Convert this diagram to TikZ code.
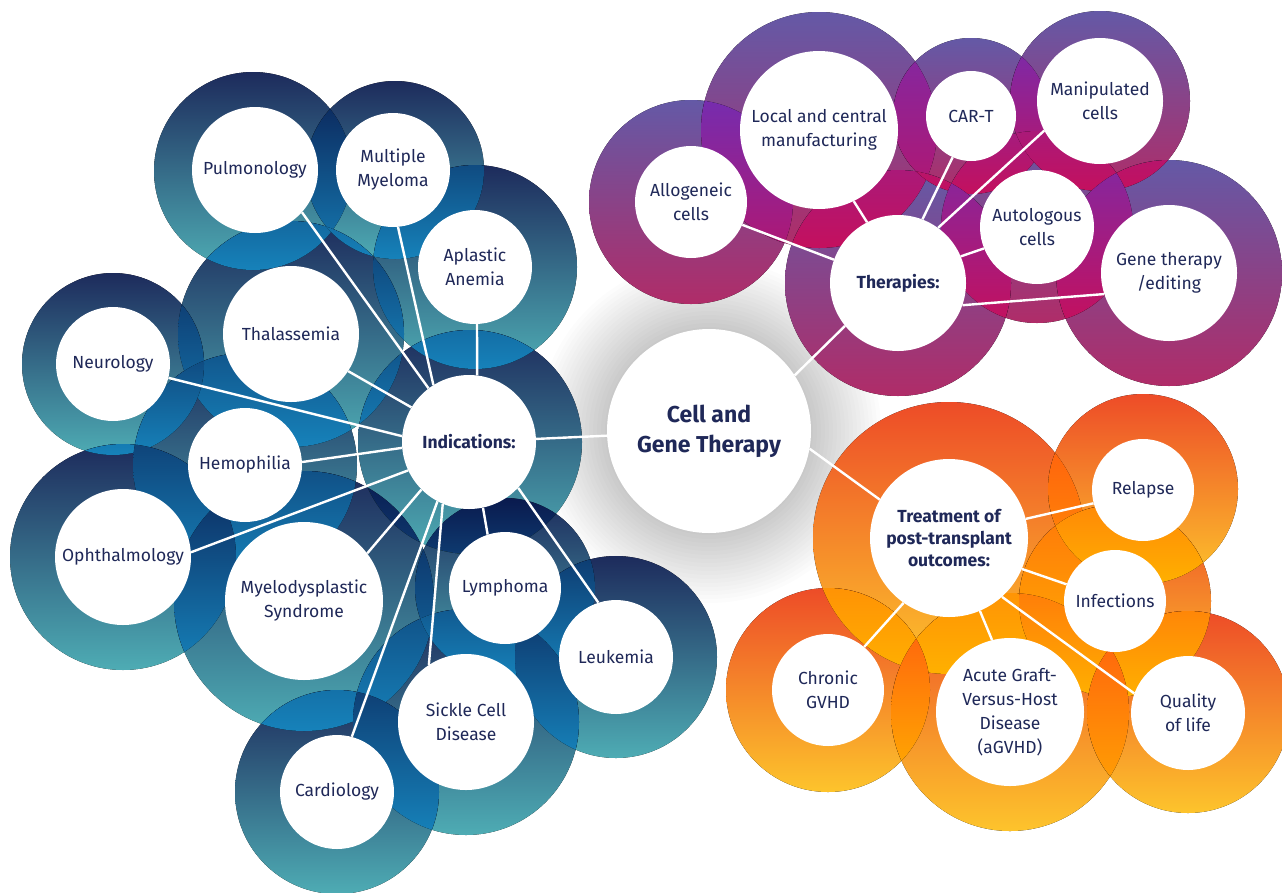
\documentclass[tikz,border=0pt]{standalone}
\usepackage{fontspec}
\setmainfont{Fira Sans}
\definecolor{txt}{RGB}{31,40,88}
\definecolor{indtop}{RGB}{29,43,92}
\definecolor{indbot}{RGB}{78,172,180}
\definecolor{indovt}{RGB}{10,26,78}
\definecolor{indovm}{RGB}{10,60,132}
\definecolor{indovb}{RGB}{22,130,186}
\definecolor{thtop}{RGB}{100,89,166}
\definecolor{thbot}{RGB}{176,44,104}
\definecolor{thovt}{RGB}{118,44,174}
\definecolor{thovm}{RGB}{152,24,148}
\definecolor{thovb}{RGB}{196,16,94}
\definecolor{trtop}{RGB}{237,76,40}
\definecolor{trbot}{RGB}{253,196,44}
\definecolor{trovt}{RGB}{255,84,16}
\definecolor{trovm}{RGB}{255,118,0}
\definecolor{trovb}{RGB}{255,176,0}
\pgfdeclarelayer{back}
\pgfdeclarelayer{links}
\pgfsetlayers{back,links,main}
\tikzset{
  bub/.style={circle, fill=white, inner sep=0pt, text=txt, align=center, font=\fontsize{17.5}{24}\selectfont},
  hub/.style={bub, font=\fontsize{17.5}{22}\selectfont\bfseries},
  link/.style={draw=white, line width=2.4pt},
  indring/.style={top color=indtop, bottom color=indbot},
  thring/.style={top color=thtop, bottom color=thbot},
  trring/.style={top color=trtop, bottom color=trbot},
  indover/.style={top color=indovt, middle color=indovm, bottom color=indovb},
  thover/.style={top color=thovt, middle color=thovm, bottom color=thovb},
  trover/.style={top color=trovt, middle color=trovm, bottom color=trovb},
  glowdisc/.style={fill=black, fill opacity=0.011},
}
% #1 overlap style, #2 x, #3 y, #4 radius, #5 the later rings that it overlaps
\newcommand\overlapring[5]{%
  \begin{scope}\clip #5; \fill[#1] (#2,#3) circle[radius=#4];\end{scope}}
\begin{document}
\begin{tikzpicture}[x=1pt,y=-1pt]
\useasboundingbox (0,0) rectangle (1282,892);

% ---------- nodes ----------
\node[bub, minimum size=204pt, font=\fontsize{23}{30}\selectfont\bfseries] (cgt) at (709,431) {Cell and\\Gene Therapy};

\node[hub, minimum size=134pt] (ind) at (469,442) {Indications:};
\node[bub, minimum size=126pt] (pul) at (255,170) {Pulmonology};
\node[bub, minimum size=114pt] (mm) at (393,170) {Multiple\\Myeloma};
\node[bub, minimum size=114pt] (aa) at (475,267) {Aplastic\\Anemia};
\node[bub, minimum size=136pt] (thal) at (291,334) {Thalassemia};
\node[bub, minimum size=114pt] (neu) at (113,364) {Neurology};
\node[bub, minimum size=114pt] (hem) at (245,465) {Hemophilia};
\node[bub, minimum size=136pt] (oph) at (123,557) {Ophthalmology};
\node[bub, minimum size=158pt] (mds) at (304,601) {Myelodysplastic\\Syndrome};
\node[bub, minimum size=112pt] (lym) at (505,588) {Lymphoma};
\node[bub, minimum size=114pt] (leu) at (616,657) {Leukemia};
\node[bub, minimum size=136pt] (scd) at (466,722) {Sickle Cell\\Disease};
\node[bub, minimum size=114pt] (car) at (337,792) {Cardiology};

\node[hub, minimum size=136pt] (thr) at (898,283) {Therapies:};
\node[bub, minimum size=112pt] (all) at (691,202) {Allogeneic\\cells};
\node[bub, minimum size=158pt] (lcm) at (819,130) {Local and central\\manufacturing};
\node[bub, minimum size=90pt] (cart) at (971,116) {CAR-T};
\node[bub, minimum size=126pt] (man) at (1100,101) {Manipulated\\cells};
\node[bub, minimum size=114pt] (aut) at (1037,227) {Autologous\\cells};
\node[bub, minimum size=136pt] (gen) at (1169,273) {Gene therapy\\/editing};

\node[hub, minimum size=158pt] (trt) at (949,538) {Treatment of\\post-transplant\\outcomes:};
\node[bub, minimum size=102pt] (rel) at (1143,490) {Relapse};
\node[bub, minimum size=102pt] (inf) at (1115,601) {Infections};
\node[bub, minimum size=112pt] (chr) at (828,690) {Chronic\\GVHD};
\node[bub, minimum size=148pt] (acu) at (1010,712) {Acute Graft-\\Versus-Host\\Disease\\(aGVHD)};
\node[bub, minimum size=114pt] (qol) at (1188,713) {Quality\\of life};

% ---------- connectors ----------
\begin{pgfonlayer}{links}
\draw[link] (ind.127) -- (pul.-42);
\draw[link] (ind.122) -- (mm.-85);
\draw[link] (ind.83) -- (aa.-88);
\draw[link] (ind.149) -- (thal.-33);
\draw[link] (ind.175) -- (neu.-14);
\draw[link] (ind.185) -- (hem.3);
\draw[link] (ind.205) -- (oph.4);
\draw[link] (ind.225) -- (mds.37);
\draw[link] (ind.-78) -- (lym.108);
\draw[link] (ind.-43) -- (leu.108);
\draw[link] (ind.-113) -- (scd.123);
\draw[link] (ind.-118) -- (car.75);
\draw[link] (ind) -- (cgt);
\draw[link] (cgt.33) -- (thr.-141);
\draw[link] (cgt.-10) -- (trt.151);
\draw[link] (thr.160) -- (all.-24);
\draw[link] (thr.117) -- (lcm.-64);
\draw[link] (thr.69) -- (cart.-114);
\draw[link] (thr.54) -- (man.-152);
\draw[link] (thr.23) -- (aut.-158);
\draw[link] (thr.-19) -- (gen.-162);
\draw[link] (trt.14) -- (rel.195);
\draw[link] (trt.-23) -- (inf.161);
\draw[link] (trt.-125) -- (chr.50);
\draw[link] (trt.-67) -- (acu.104);
\draw[link] (trt.-48) -- (qol.160);
\end{pgfonlayer}

% ---------- background, glow and rings ----------
\begin{pgfonlayer}{back}
\fill[white] (0,0) rectangle (1282,892);
\foreach \r in {104,108,...,172} {\fill[glowdisc] (709,431) circle[radius=\r];}
% Indications cluster
\fill[indring] (253,171) circle[radius=99];
\fill[indring] (395,170) circle[radius=89];
\fill[indring] (475,267) circle[radius=102];
\fill[indring] (291,334) circle[radius=113];
\fill[indring] (113,364) circle[radius=91];
\fill[indring] (245,465) circle[radius=112];
\fill[indring] (123,557) circle[radius=113];
\fill[indring] (304,601) circle[radius=130];
\fill[indring] (505,588) circle[radius=90];
\fill[indring] (616,657) circle[radius=101];
\fill[indring] (466,722) circle[radius=113];
\fill[indring] (337,792) circle[radius=102];
\fill[indring] (470,442) circle[radius=112];
\overlapring{indover}{253}{171}{99}{(395,170) circle[radius=89] (291,334) circle[radius=113]}
\overlapring{indover}{395}{170}{89}{(475,267) circle[radius=102] (291,334) circle[radius=113]}
\overlapring{indover}{475}{267}{102}{(291,334) circle[radius=113] (470,442) circle[radius=112]}
\overlapring{indover}{291}{334}{113}{(113,364) circle[radius=91] (245,465) circle[radius=112] (470,442) circle[radius=112]}
\overlapring{indover}{113}{364}{91}{(245,465) circle[radius=112] (123,557) circle[radius=113]}
\overlapring{indover}{245}{465}{112}{(123,557) circle[radius=113] (304,601) circle[radius=130] (470,442) circle[radius=112]}
\overlapring{indover}{123}{557}{113}{(304,601) circle[radius=130]}
\overlapring{indover}{304}{601}{130}{(505,588) circle[radius=90] (466,722) circle[radius=113] (337,792) circle[radius=102] (470,442) circle[radius=112]}
\overlapring{indover}{505}{588}{90}{(616,657) circle[radius=101] (466,722) circle[radius=113] (470,442) circle[radius=112]}
\overlapring{indover}{616}{657}{101}{(466,722) circle[radius=113]}
\overlapring{indover}{466}{722}{113}{(337,792) circle[radius=102]}
% Therapies cluster
\fill[thring] (691,202) circle[radius=102];
\fill[thring] (819,130) circle[radius=118];
\fill[thring] (971,116) circle[radius=78];
\fill[thring] (1100,101) circle[radius=90];
\fill[thring] (1037,227) circle[radius=96];
\fill[thring] (1169,273) circle[radius=113];
\fill[thring] (898,283) circle[radius=113];
\overlapring{thover}{691}{202}{102}{(819,130) circle[radius=118] (898,283) circle[radius=113]}
\overlapring{thover}{819}{130}{118}{(971,116) circle[radius=78] (898,283) circle[radius=113]}
\overlapring{thover}{971}{116}{78}{(1100,101) circle[radius=90] (1037,227) circle[radius=96] (898,283) circle[radius=113]}
\overlapring{thover}{1100}{101}{90}{(1037,227) circle[radius=96] (1169,273) circle[radius=113]}
\overlapring{thover}{1037}{227}{96}{(1169,273) circle[radius=113] (898,283) circle[radius=113]}
% Treatment cluster
\fill[trring] (949,538) circle[radius=136];
\fill[trring] (1143,489) circle[radius=95];
\fill[trring] (1115,601) circle[radius=96];
\fill[trring] (828,690) circle[radius=102];
\fill[trring] (1010,712) circle[radius=119];
\fill[trring] (1188,712) circle[radius=101];
\overlapring{trover}{949}{538}{136}{(1143,489) circle[radius=95] (1115,601) circle[radius=96] (828,690) circle[radius=102] (1010,712) circle[radius=119]}
\overlapring{trover}{1143}{489}{95}{(1115,601) circle[radius=96]}
\overlapring{trover}{1115}{601}{96}{(1010,712) circle[radius=119] (1188,712) circle[radius=101]}
\overlapring{trover}{828}{690}{102}{(1010,712) circle[radius=119]}
\overlapring{trover}{1010}{712}{119}{(1188,712) circle[radius=101]}
\end{pgfonlayer}
\end{tikzpicture}
\end{document}
